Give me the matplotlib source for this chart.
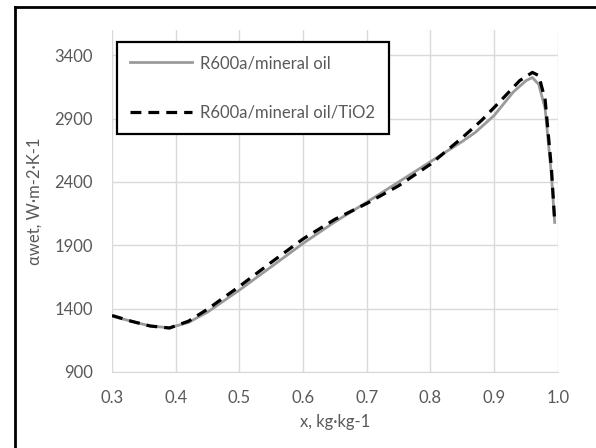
"""
Heat transfer coefficient vs vapour quality, R600a/mineral oil with and without TiO2.
"""

import matplotlib.pyplot as plt
from matplotlib.lines import Line2D

plt.rcParams["font.family"] = ["Lato", "DejaVu Sans"]

# values
x_oil = [0.30, 0.33, 0.36, 0.39, 0.42, 0.45, 0.50, 0.55, 0.60, 0.65, 0.70, 0.75,
         0.80, 0.85, 0.87, 0.90, 0.93, 0.95, 0.96, 0.97, 0.98, 0.99, 0.995]
y_oil = [1340, 1300, 1262, 1248, 1290, 1372, 1546, 1730, 1915, 2085, 2240, 2400,
         2560, 2720, 2790, 2925, 3110, 3200, 3225, 3170, 2980, 2450, 2080]

x_tio2 = [0.30, 0.33, 0.36, 0.39, 0.42, 0.45, 0.50, 0.55, 0.60, 0.65, 0.70, 0.75,
          0.80, 0.85, 0.88, 0.91, 0.94, 0.96, 0.97, 0.98, 0.99, 0.995]
y_tio2 = [1345, 1300, 1262, 1246, 1300, 1395, 1575, 1765, 1950, 2105, 2230, 2370,
          2540, 2750, 2885, 3040, 3200, 3265, 3240, 3050, 2500, 2090]

x_ticks = [0.3, 0.4, 0.5, 0.6, 0.7, 0.8, 0.9, 1.0]
y_ticks = [900, 1400, 1900, 2400, 2900, 3400]

text_color = "#595959"
grid_color = "#d9d9d9"

fig = plt.figure(figsize=(5.96, 4.48), dpi=100)
ax = fig.add_axes([0.188, 0.170, 0.748, 0.763])

ax.plot(x_oil, y_oil, color="#9a9a9a", linewidth=2.0, label="R600a/mineral oil")
ax.plot(x_tio2, y_tio2, color="black", linewidth=2.3, linestyle=(0, (3.4, 2.2)),
        label="R600a/mineral oil/TiO2")

ax.set_xlim(0.3, 1.0)
ax.set_ylim(900, 3600)
ax.set_xticks(x_ticks)
ax.set_xticklabels([f"{v:.1f}" for v in x_ticks])
ax.set_yticks(y_ticks)
ax.grid(True, color=grid_color, linewidth=1.0)
ax.set_axisbelow(True)
for side in ["top", "right", "left"]:
    ax.spines[side].set_visible(False)
ax.spines["bottom"].set_color(grid_color)
ax.tick_params(length=0, labelsize=12, labelcolor=text_color)
ax.tick_params(axis="x", pad=13)
ax.tick_params(axis="y", pad=14)

ax.set_xlabel("x, kg·kg-1", fontsize=12, color=text_color, labelpad=6)
ax.set_ylabel("αwet, W·m-2·K-1", fontsize=12, color=text_color, labelpad=8)

leg = ax.legend(loc="upper left", bbox_to_anchor=(0.011, 0.965), borderaxespad=0,
                fontsize=12, labelspacing=2.0, handlelength=3.7, handletextpad=0.5,
                borderpad=0.8, fancybox=False, framealpha=1)
leg.get_frame().set_edgecolor("black")
leg.get_frame().set_linewidth(1.6)
for t in leg.get_texts():
    t.set_color(text_color)

# outer frame (left and top edges visible in the reference)
fig.add_artist(Line2D([0.026, 0.026], [0.0, 0.984], color="black", linewidth=2))
fig.add_artist(Line2D([0.026, 1.0], [0.984, 0.984], color="black", linewidth=2))

fig.savefig("out.png", dpi=100)
